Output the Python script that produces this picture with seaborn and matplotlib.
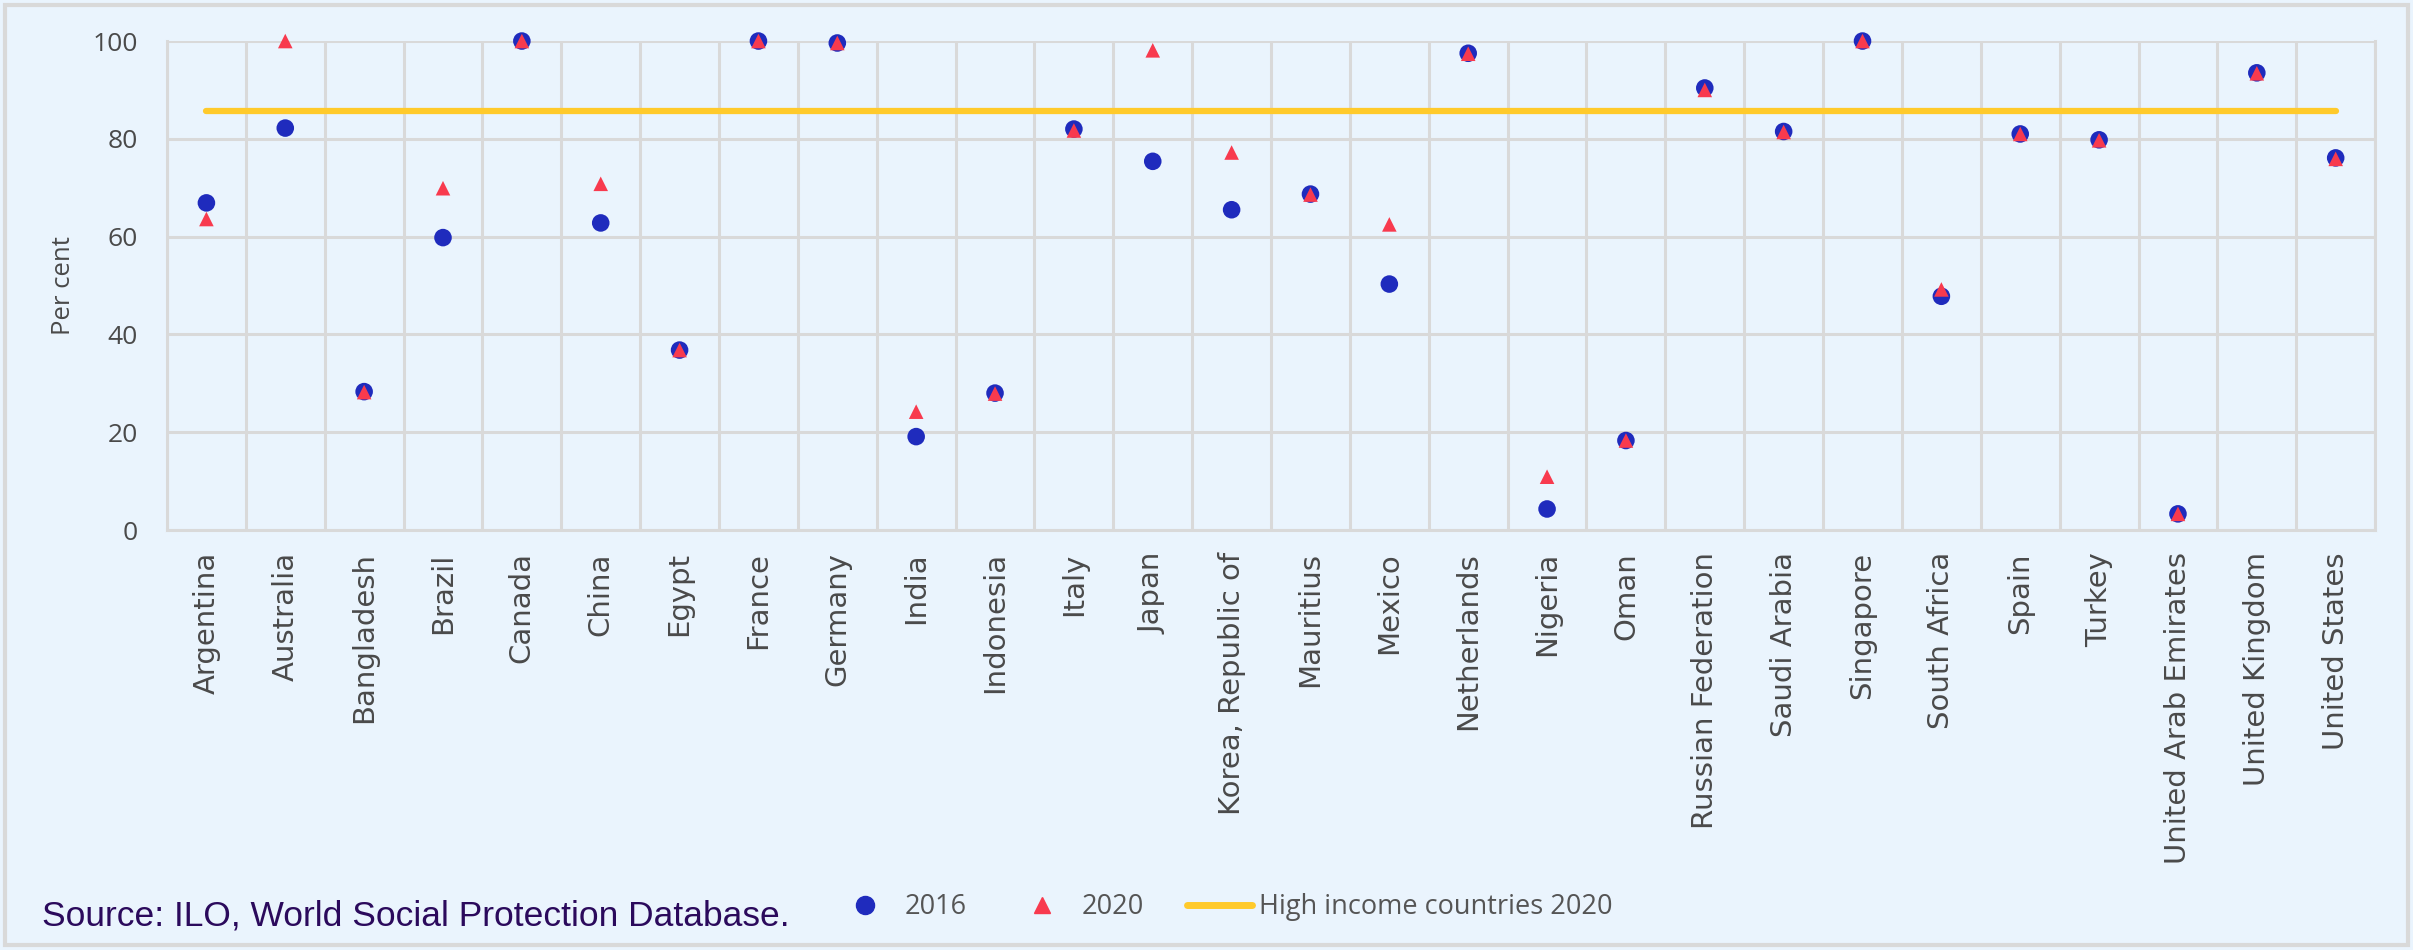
import pandas as pd
import seaborn as sns
import matplotlib.pyplot as plt
from matplotlib.patches import Rectangle
from matplotlib.lines import Line2D

countries = ['Argentina', 'Australia', 'Bangladesh', 'Brazil', 'Canada', 'China', 'Egypt',
             'France', 'Germany', 'India', 'Indonesia', 'Italy', 'Japan', 'Korea, Republic of',
             'Mauritius', 'Mexico', 'Netherlands', 'Nigeria', 'Oman', 'Russian Federation',
             'Saudi Arabia', 'Singapore', 'South Africa', 'Spain', 'Turkey',
             'United Arab Emirates', 'United Kingdom', 'United States']
values_2016 = [66.9, 82.2, 28.3, 59.8, 100, 62.8, 36.8, 100, 99.6, 19.1, 28.0, 82.0, 75.4, 65.5,
               68.7, 50.3, 97.5, 4.3, 18.3, 90.4, 81.5, 100, 47.8, 81.0, 79.8, 3.3, 93.5, 76.1]
values_2020 = [63.6, 100, 28.2, 69.9, 100, 70.8, 36.8, 100, 99.6, 24.2, 27.9, 81.7, 98.1, 77.2,
               68.6, 62.5, 97.4, 10.9, 18.3, 90.0, 81.4, 100, 49.2, 81.0, 79.7, 3.3, 93.4, 75.9]
high_income_2020 = 85.6

bg = '#EAF4FD'
grid_col = '#D9D9D9'
blue = '#1F2BBD'
red = '#F83A4E'
yellow = '#FFCA2B'
txt = '#4A4A4A'

sns.set_style('whitegrid')
plt.rcParams['font.family'] = ['Open Sans', 'DejaVu Sans']

df = pd.DataFrame({'Country': countries, '2016': values_2016, '2020': values_2020})

fig = plt.figure(figsize=(24.13, 9.5), dpi=100, facecolor=bg)
ax = fig.add_axes([0.0692, 0.4421, 0.9151, 0.5147])
ax.set_facecolor(bg)

# reference line for high income countries
n = len(countries)
ax.plot([0, n - 1], [high_income_2020, high_income_2020], color=yellow, lw=4.5,
        solid_capstyle='round', zorder=2)

sns.scatterplot(data=df, x='Country', y='2016', ax=ax, color=blue, marker='o', s=160,
                edgecolor='none', zorder=3, clip_on=False)
sns.scatterplot(data=df, x='Country', y='2020', ax=ax, color=red, marker='^', s=110,
                edgecolor='none', zorder=4, clip_on=False)

ax.set_xlim(-0.5, n - 0.5)
ax.set_ylim(0, 100)
ax.set_yticks(range(0, 101, 20))
ax.set_xticks([i + 0.5 for i in range(-1, n)], minor=True)
ax.grid(False)
ax.grid(True, which='minor', axis='x', color=grid_col, lw=2.2)
ax.grid(True, which='major', axis='y', color=grid_col, lw=2.2)
ax.set_axisbelow(True)
for side in ['left', 'right', 'bottom', 'top']:
    ax.spines[side].set_visible(side != 'top')
    ax.spines[side].set_color(grid_col)
    ax.spines[side].set_linewidth(2.2)

ax.tick_params(axis='x', which='both', length=0, pad=16, labelcolor=txt, labelrotation=90)
for lab in ax.get_xticklabels():
    lab.set_fontfamily('DejaVu Sans')
    lab.set_fontsize(21)
ax.tick_params(axis='y', length=0, pad=21, labelsize=19, labelcolor=txt)
ax.set_xlabel('')
ax.set_ylabel('Per cent', fontsize=18.5, color=txt, labelpad=12)

# outer frame
fig.patches.append(Rectangle((0.002, 0.005), 0.996, 0.99, transform=fig.transFigure,
                             fill=False, edgecolor=grid_col, lw=3))

handles = [
    Line2D([], [], ls='none', marker='o', color=blue, markersize=13),
    Line2D([], [], ls='none', marker='^', color=red, markersize=11),
    Line2D([], [], color=yellow, lw=5, solid_capstyle='round'),
]
leg = fig.legend(handles, ['2016', '2020', 'High income countries 2020'], ncol=3,
                 loc='center left', bbox_to_anchor=(0.335, 0.045), frameon=False,
                 fontsize=19.5, handlelength=2.4, columnspacing=1.6, handletextpad=0.25)
for t in leg.get_texts():
    t.set_color('#555555')

fig.text(0.0174, 0.0263, 'Source: ILO, World Social Protection Database.', fontsize=25.5,
         color='#2B0A5C', family='Liberation Sans', va='baseline', ha='left')

fig.savefig('out.png', dpi=100, facecolor=bg)
